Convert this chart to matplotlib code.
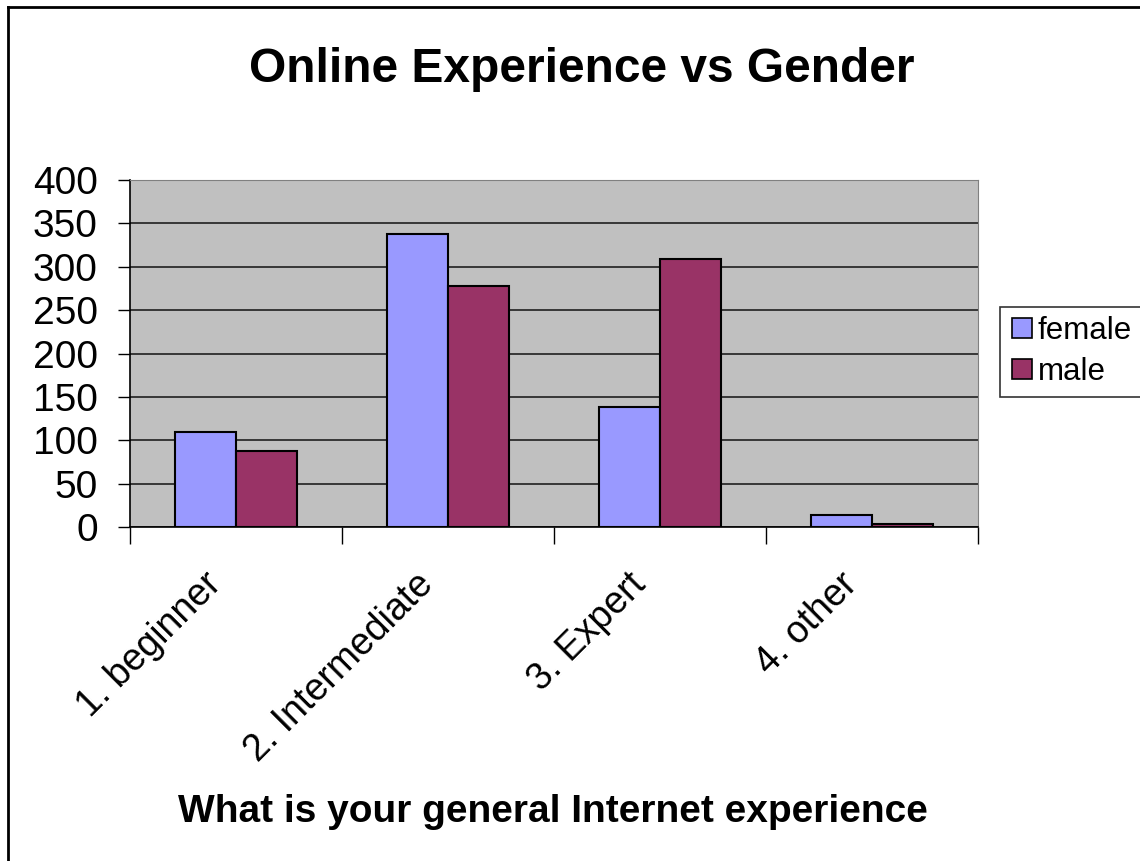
import numpy as np
import matplotlib
matplotlib.use('Agg')
import matplotlib.pyplot as plt
from matplotlib.lines import Line2D

plt.rcParams['font.family'] = ['Liberation Sans', 'DejaVu Sans']

categories = ['1. beginner', '2. Intermediate', '3. Expert', '4. other']
female = [109, 338, 138, 14]
male = [88, 278, 309, 4]
series_names = ['female', 'male']
colors = ['#9999FF', '#993366']

fig = plt.figure(figsize=(11.4, 8.61), dpi=100)
ax = fig.add_axes([130 / 1140, 1 - 527 / 861, 848 / 1140, 347 / 861])

x = np.arange(len(categories))
w = 1 / 3.5
ax.bar(x - w / 2, female, w, color=colors[0], edgecolor='black', linewidth=1.5,
       label=series_names[0], zorder=3)
ax.bar(x + w / 2, male, w, color=colors[1], edgecolor='black', linewidth=1.5,
       label=series_names[1], zorder=3)

ax.set_facecolor('#C0C0C0')
ax.set_xlim(-0.5, len(categories) - 0.5)
ax.set_ylim(0, 400)
ax.set_yticks(range(0, 401, 50))
ax.yaxis.grid(True, color='#202020', linewidth=1.2, zorder=0)
ax.set_axisbelow(True)
ax.tick_params(axis='y', labelsize=28, length=8.6, width=1, pad=14.5)

# category boundary ticks, labels at centres
ax.set_xticks(np.arange(-0.5, len(categories)), minor=False)
ax.set_xticklabels([''] * (len(categories) + 1))
ax.tick_params(axis='x', length=12, width=1)
for i, c in enumerate(categories):
    ax.text(i - 0.155, -45, c, rotation=45, ha='right', va='top',
            rotation_mode='anchor', fontsize=27, transform=ax.transData)

for s in ['top', 'right']:
    ax.spines[s].set_color('#808080')
for s in ['left', 'bottom']:
    ax.spines[s].set_color('black')
    ax.spines[s].set_linewidth(1.2)

fig.text(582 / 1140, 1 - 70 / 861, 'Online Experience vs Gender', ha='center',
         va='center', fontsize=34.5, fontweight='bold')
fig.text(553 / 1140, 1 - 812 / 861, 'What is your general Internet experience',
         ha='center', va='center', fontsize=28, fontweight='bold')

handles = [Line2D([], [], marker='s', linestyle='', markersize=15,
                  markerfacecolor=c, markeredgecolor='black', markeredgewidth=1.2)
           for c in colors]
leg = fig.legend(handles, series_names, loc='upper left',
                 bbox_to_anchor=(1000 / 1140, 1 - 307 / 861), fontsize=22.5,
                 frameon=True, fancybox=False, edgecolor='black',
                 handletextpad=0.1, borderpad=0.3, labelspacing=0.35,
                 handlelength=0.8, borderaxespad=0)
leg.get_frame().set_linewidth(1.2)

# outer chart border (left and top edges are visible)
fig.add_artist(Line2D([8 / 1140, 8 / 1140], [0, 1 - 7 / 861], color='black',
                      linewidth=2, transform=fig.transFigure))
fig.add_artist(Line2D([8 / 1140, 1], [1 - 7 / 861, 1 - 7 / 861], color='black',
                      linewidth=2, transform=fig.transFigure))

fig.savefig('out.png', dpi=100, facecolor='white')
